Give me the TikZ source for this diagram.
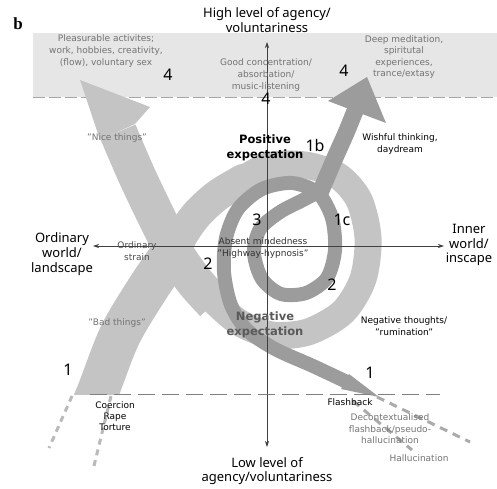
\documentclass[tikz,border=0pt]{standalone}
\usepackage{fontspec}
\setmainfont{DejaVu Sans}
\newfontfamily\axisfont{Noto Sans}
\newfontfamily\panelfont{Liberation Serif}
\usepackage{tikz}
\usetikzlibrary{arrows.meta}
\definecolor{lightpath}{HTML}{C4C4C4}
\definecolor{darkpath}{HTML}{9C9C9C}
\definecolor{bandgrey}{HTML}{E6E6E6}
\tikzset{
  myaxis/.style={
    draw=black!75,
    line width=0.7pt,
    {Stealth[length=6pt,width=4pt]}-{Stealth[length=6pt,width=4pt]},
  },
  myaxislabel/.style={
    font=\axisfont\fontsize{13}{14.8}\selectfont,
    align=center,
    inner sep=0pt,
  },
  mynumber/.style={
    font=\axisfont\fontsize{16}{16}\selectfont,
    inner sep=0pt,
  },
  mynote/.style={
    font=\fontsize{9}{11.6}\selectfont,
    align=center,
    inner sep=0pt,
  },
  mygreynote/.style={
    mynote,
    text=black!55,
  },
  myexpect/.style={
    font=\bfseries\fontsize{11.5}{15}\selectfont,
    align=center,
    inner sep=0pt,
  },
  lightstroke/.style={
    draw=lightpath,
    line cap=butt,
    line join=round,
  },
  darkstroke/.style={
    draw=darkpath,
    line width=14pt,
    line cap=butt,
    line join=round,
  },
  mydots/.style={
    draw=black!27,
    line width=3pt,
    dash pattern=on 6pt off 5pt,
  },
}

\begin{document}
\begin{tikzpicture}[x=1pt, y=-1pt]
    \useasboundingbox (0,0) rectangle (497,488);

    % high agency band
    \fill[bandgrey] (33,33) rectangle (497,97);
    \draw[black!35, line width=0.6pt, dash pattern=on 12pt off 4pt] (33,97) -- (497,97);

    % light path
    \begin{scope}
      \clip (0,0) rectangle (497,394);
      \draw[lightstroke, line width=42pt] plot[smooth] coordinates {(82,428) (97,394) (120,335) (150,285) (178,245)};
      \draw[lightstroke, line width=32pt, line cap=round] plot[smooth] coordinates {(172,255) (184,232) (198,213) (218,195) (243,180)};
      \draw[lightstroke, line width=27pt] plot[smooth] coordinates {(236,184) (268,166) (305,165) (338,176) (359,200) (368,238) (363,279) (343,312) (308,332) (272,335) (240,323) (214,301) (204,289)};
      \draw[lightstroke, line width=38pt] plot[smooth] coordinates {(214,303) (195,282) (176,255) (158,220) (137,176) (118,132)};
      \fill[lightpath] (80,80) -- (150,107) -- (135,124) -- (100,140) -- cycle;
    \end{scope}

    % dark path
    \fill[darkpath] (379,397) -- (349,374) -- (341,389) -- cycle;
    \draw[darkstroke] plot[smooth] coordinates {(347,382) (313,366) (275,349) (247,330) (231,305) (224,272) (226,238) (238,209) (262,189) (292,183) (318,193) (332,218) (335,250) (327,278) (306,293) (281,294) (262,279) (254,253) (260,229) (280,212) (303,200) (320,190) (328,176)};
    \draw[darkstroke, line width=17pt] plot[smooth] coordinates {(320,193) (334,160) (346,133) (357,106)};
    \fill[darkpath] (367,77) -- (386,123) -- (328,101) -- cycle;

    % decontextualised traces
    \coordinate (armL) at (72,396);
    \coordinate (armR) at (111,396);
    \coordinate (endL) at (49,448);
    \coordinate (endR) at (93,470);
    \draw[mydots] (armL) -- (endL);
    \draw[mydots] (armR) -- (endR);
    \coordinate (fbA) at (377,397);
    \coordinate (fbB) at (353,401);
    \coordinate (endA) at (470,442);
    \coordinate (endB) at (412,450);
    \draw[mydots, draw=black!33, dash pattern=on 8pt off 6pt] (fbA) -- (endA);
    \draw[mydots, draw=black!33, dash pattern=on 8pt off 6pt] (fbB) -- (endB);

    % axes
    \coordinate (top) at (267,42);
    \coordinate (bottom) at (267,447);
    \coordinate (left) at (93,246);
    \coordinate (right) at (444,246);
    \draw[myaxis] (bottom) -- (top);
    \draw[myaxis] (left) -- (right);

    \coordinate (cutL) at (90,394);
    \coordinate (cutR) at (440,394);
    \draw[black!50, line width=0.8pt, dash pattern=on 17pt off 7pt] (cutL) -- (cutR);

    % labels
    \node[font=\panelfont\bfseries\fontsize{17}{17}\selectfont, inner sep=0pt] (panel) at (18,24) {b};
    \node[myaxislabel] (high) at (267,20) {High level of agency/\\voluntariness};
    \node[myaxislabel] (low) at (267,471) {Low level of\\agency/voluntariness};
    \node[myaxislabel] (ordinary) at (62,254) {Ordinary\\world/\\landscape};
    \node[myaxislabel] (inner) at (469,245) {Inner\\world/\\inscape};

    \node[mygreynote] (pleasure) at (106,51) {Pleasurable activites;\\work, hobbies, creativity,\\(flow), voluntary sex};
    \node[mygreynote] (goodconc) at (266,75) {Good concentration/\\absorbation/\\music-listening};
    \node[mygreynote, font=\fontsize{9}{11.2}\selectfont] (deepmed) at (404,57) {Deep meditation,\\spiritutal\\experiences,\\trance/extasy};
    \node[mygreynote] (nice) at (117,138) {"Nice things"};
    \node[mygreynote] (bad) at (117,323) {"Bad things"};
    \node[mynote, text=black!70] (strain) at (137,251) {Ordinary\\strain};
    \node[mynote, text=black!80] (absent) at (263,248) {Absent mindedness\\"Highway-hypnosis"};
    \node[mynote] (wishful) at (400,144) {Wishful thinking,\\daydream};
    \node[mynote] (negthought) at (404,326) {Negative thoughts/\\"rumination"};
    \node[mynote, font=\fontsize{9}{11}\selectfont] (coercion) at (115,416) {Coercion\\Rape\\Torture};
    \node[mynote] (flash) at (350,402) {Flashback};
    \node[mygreynote] (decont) at (390,429) {Decontextualised\\flashback/pseudo-\\hallucination};
    \node[mygreynote] (halluc) at (419,458) {Hallucination};

    \node[myexpect] (posexp) at (265,148) {Positive\\expectation};
    \node[myexpect, text=black!65] (negexp) at (265,325) {Negative\\expectation};

    \node[mynumber] (fourA) at (168,75) {4};
    \node[mynumber] (fourB) at (266,99) {4};
    \node[mynumber] (fourC) at (344,71) {4};
    \node[mynumber] (oneb) at (315,145) {1b};
    \node[mynumber] (onec) at (342,220) {1c};
    \node[mynumber] (three) at (257,220) {3};
    \node[mynumber] (twoA) at (208,264) {2};
    \node[mynumber] (twoB) at (332,285) {2};
    \node[mynumber] (oneA) at (68,370) {1};
    \node[mynumber] (oneB) at (370,373) {1};

  \end{tikzpicture}
\end{document}
